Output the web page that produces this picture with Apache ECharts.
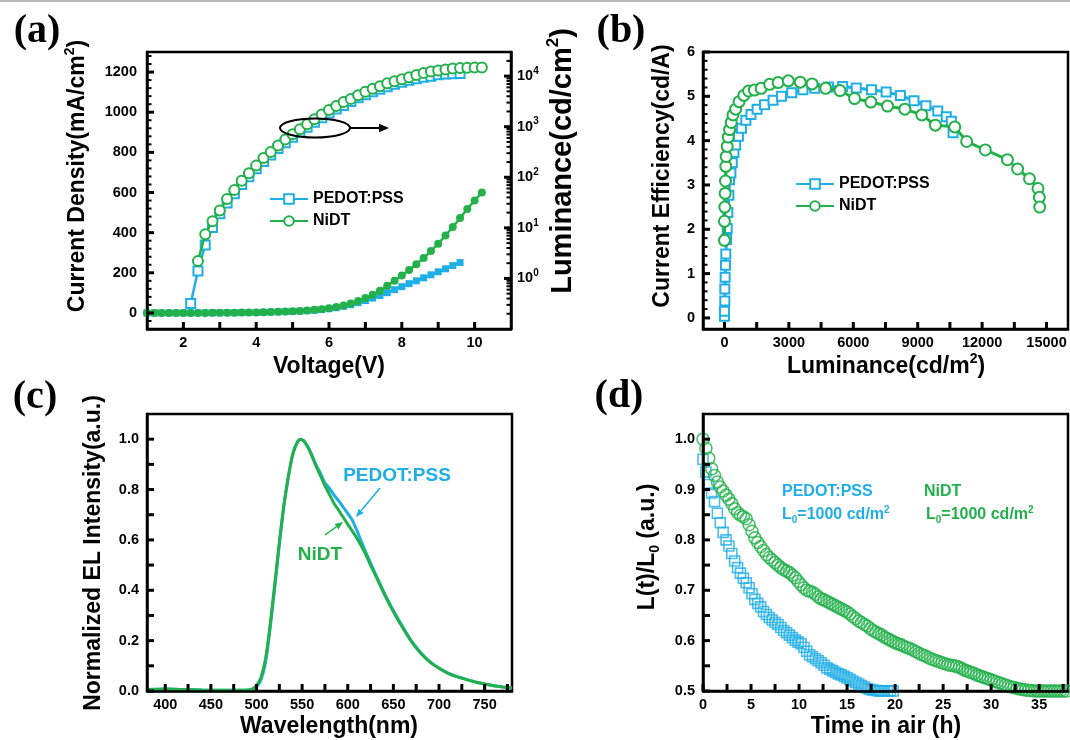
<!DOCTYPE html>
<html>
<head>
<meta charset="utf-8">
<title>OLED device characteristics: PEDOT:PSS vs NiDT</title>
<script src="https://cdn.jsdelivr.net/npm/echarts@6.0.0/dist/echarts.min.js"></script>
<style>
  html, body { margin: 0; padding: 0; background: #fff; }
  #chart { width: 1070px; height: 740px; }
</style>
</head>
<body>
<div id="chart"></div>
<script>
const BLUE = '#1FAEE6';
const GREEN = '#23B04B';
const FONT = 'Liberation Sans';
const SERIF = 'Liberation Serif';

// ---------- (a) current density / luminance vs voltage ----------
const voltage = [1.0,1.2,1.4,1.6,1.8,2.0,2.2,2.4,2.6,2.8,3.0,3.2,3.4,3.6,3.8,4.0,4.2,4.4,4.6,4.8,
                 5.0,5.2,5.4,5.6,5.8,6.0,6.2,6.4,6.6,6.8,7.0,7.2,7.4,7.6,7.8,8.0,8.2,8.4,8.6,8.8,
                 9.0,9.2,9.4,9.6,9.8,10.0,10.2];
// current density, mA/cm2
const jPedot = [0,0,0,0,0,0,0.1,0.2,0.3,0.4,0.6,0.9,1.2,1.6,2.0,2.6,3.3,4.1,5.1,6.3,
                7.7,9.3,11.3,13.8,17,21,26,33,41,51,62,74,87,101,116,131,146,160,175,190,
                205,220,236,251,null,null,null];
const jNidt = [0,0,0,0,0,0,0.1,0.2,0.3,0.5,0.7,1.0,1.3,1.7,2.2,2.8,3.5,4.4,5.5,6.8,
               8.3,10,12.5,15.5,19,23,29,37,47,59,74,91,111,135,160,187,214,243,274,308,
               345,386,428,473,518,560,600];
// luminance (log axis)
const lumPedot = [null,null,null,null,null,null,0.32,1.4,4.6,10.2,19,31,47,72,102,148,204,275,372,479,
                  617,776,977,1230,1510,1860,2240,2630,3160,3720,4270,4900,5500,6170,6920,7590,8320,8910,9550,10000,
                  10700,10960,11200,11300,null,null,null];
const lumNidt = [null,null,null,null,null,null,null,2.2,7.5,13.5,22,37,56,85,120,170,240,316,427,560,
                 710,890,1120,1410,1740,2140,2570,3090,3550,4170,4900,5620,6310,7240,7940,8710,9550,10500,11500,12300,
                 12900,13500,14100,14400,14700,14750,14800];
const voltLabels = [2,4,6,8,10];
const voltTicks = [2,3,4,5,6,7,8,9,10];
const jLabels = [0,200,400,600,800,1000,1200];
const lumDecades = [1,10,100,1000,10000];

// ---------- (b) current efficiency vs luminance ----------
const effLumPedot = [0,0,16,16,32,47,63,95,127,158,206,237,300,364,443,522,649,791,997,1234,
                     1519,1867,2262,2658,3132,3654,4208,4841,5505,6138,6850,7530,8195,8828,9381,9935,10331,10567,10647];
const effPedot = [0.04,0.15,0.38,0.65,0.92,1.19,1.44,1.77,2.02,2.38,2.77,3.12,3.27,3.5,3.73,3.9,4.1,4.28,4.46,4.59,
                  4.71,4.81,4.91,5.0,5.08,5.15,5.18,5.21,5.22,5.19,5.15,5.10,5.02,4.90,4.79,4.67,4.54,4.44,4.18];
const effLumNidt = [0,0,16,32,47,63,79,127,174,237,316,396,522,680,902,1123,1392,1709,2104,2500,
                    2974,3528,4082,4714,5379,6059,6818,7594,8400,9191,9824,10726,11280,12150,13178,13653,14206,14602,14665,14681];
const effNidt = [1.75,2.18,2.5,2.81,3.09,3.42,3.64,3.87,4.08,4.25,4.41,4.58,4.71,4.88,5.02,5.12,5.14,5.18,5.27,5.31,
                 5.35,5.32,5.28,5.18,5.13,4.95,4.87,4.78,4.71,4.58,4.35,4.31,3.98,3.79,3.57,3.36,3.14,2.92,2.72,2.5];
const lumLabels = [0,3000,6000,9000,12000,15000];
const lumTicks = [0,1500,3000,4500,6000,7500,9000,10500,12000,13500,15000];
const ceLabels = [0,1,2,3,4,5,6];
const ceMinor = [0.2,0.4,0.6,0.8,1.2,1.4,1.6,1.8,2.2,2.4,2.6,2.8,3.2,3.4,3.6,3.8,4.2,4.4,4.6,4.8,5.2,5.4,5.6,5.8];

// ---------- (c) normalized EL spectra ----------
const wavelength = [380,400,420,440,460,480,490,495,500,505,510,515,520,525,530,535,540,545,548,552,
                    556,560,565,570,575,580,585,590,595,600,605,610,615,620,625,630,640,650,660,670,
                    680,690,700,710,720,730,740,750,760,770,780];
const elPedot = [0.006,0.008,0.006,0.004,0.003,0.003,0.003,0.005,0.016,0.045,0.115,0.25,0.41,0.58,0.735,0.852,0.943,0.99,1.0,0.993,
                 0.972,0.943,0.9,0.865,0.826,0.805,0.778,0.755,0.73,0.705,0.678,0.638,0.592,0.55,0.508,0.468,0.39,0.32,0.256,0.198,
                 0.152,0.117,0.091,0.071,0.057,0.046,0.036,0.028,0.021,0.016,0.012];
const elNidt = [0.006,0.008,0.006,0.004,0.003,0.003,0.004,0.008,0.022,0.055,0.13,0.265,0.425,0.59,0.74,0.855,0.945,0.99,1.0,0.992,
                0.97,0.94,0.895,0.855,0.815,0.78,0.745,0.718,0.69,0.662,0.635,0.607,0.575,0.54,0.50,0.462,0.385,0.315,0.252,0.195,
                0.15,0.115,0.09,0.07,0.056,0.045,0.036,0.028,0.021,0.016,0.012];
const wlLabels = [400,450,500,550,600,650,700,750];
const wlTicks = [400,425,450,475,500,525,550,575,600,625,650,675,700,725,750,775];
const elLabels = [0,0.2,0.4,0.6,0.8,1.0];
const elTicks = [0,0.1,0.2,0.3,0.4,0.5,0.6,0.7,0.8,0.9,1.0];

// ---------- (d) luminance decay in air ----------
const timePedot = [0,0.3,0.6,0.9,1.2,1.5,1.8,2.1,2.4,2.7,3,3.3,3.6,3.9,4.2,4.5,4.8,5.1,5.4,5.7,
                   6,6.3,6.6,6.9,7.2,7.5,7.8,8.1,8.4,8.7,9,9.3,9.6,9.9,10.2,10.5,10.8,11.1,11.4,11.7,
                   12,12.3,12.6,12.9,13.2,13.5,13.8,14.1,14.4,14.7,15,15.3,15.6,15.9,16.2,16.5,16.8,17.1,17.4,17.7,
                   18,18.3,18.6,18.9,19.2,19.5,19.8];
const decayPedot = [0.960,0.935,0.910,0.893,0.876,0.853,0.834,0.815,0.800,0.788,
                    0.773,0.758,0.745,0.734,0.724,0.715,0.705,0.693,0.682,0.674,
                    0.667,0.658,0.652,0.646,0.641,0.636,0.632,0.626,0.620,0.616,
                    0.611,0.606,0.601,0.597,0.594,0.587,0.579,0.572,0.568,0.564,
                    0.560,0.556,0.551,0.546,0.543,0.540,0.537,0.534,0.532,0.529,
                    0.526,0.523,0.520,0.517,0.514,0.511,0.508,0.505,0.503,0.502,
                    0.501,0.500,0.500,0.500,0.500,0.500,0.500];
const timeNidt = [0,0.3,0.6,0.9,1.2,1.5,1.8,2.1,2.4,2.7,3,3.3,3.6,3.9,4.2,4.5,4.8,5.1,5.4,5.7,
                  6,6.3,6.6,6.9,7.2,7.5,7.8,8.1,8.4,8.7,9,9.3,9.6,9.9,10.2,10.5,10.8,11.1,11.4,11.7,
                  12,12.3,12.6,12.9,13.2,13.5,13.8,14.1,14.4,14.7,15,15.3,15.6,15.9,16.2,16.5,16.8,17.1,17.4,17.7,
                  18,18.3,18.6,18.9,19.2,19.5,19.8,20.1,20.4,20.7,21,21.3,21.6,21.9,22.2,22.5,22.8,23.1,23.4,23.7,
                  24,24.3,24.6,24.9,25.2,25.5,25.8,26.1,26.4,26.7,27,27.3,27.6,27.9,28.2,28.5,28.8,29.1,29.4,29.7,
                  30,30.3,30.6,30.9,31.2,31.5,31.8,32.1,32.4,32.7,33,33.3,33.6,33.9,34.2,34.5,34.8,35.1,35.4,35.7,
                  36,36.3,36.6,36.9,37.2,37.5,37.8];
const decayNidt = [1.000,0.982,0.962,0.941,0.928,0.915,0.905,0.897,0.889,0.881,
                   0.872,0.862,0.854,0.849,0.846,0.842,0.830,0.817,0.804,0.795,
                   0.787,0.779,0.771,0.765,0.760,0.755,0.750,0.745,0.741,0.738,
                   0.735,0.730,0.725,0.718,0.711,0.705,0.700,0.698,0.696,0.692,
                   0.687,0.683,0.681,0.678,0.675,0.672,0.669,0.666,0.663,0.660,
                   0.657,0.653,0.648,0.644,0.639,0.636,0.632,0.629,0.624,0.620,
                   0.617,0.614,0.611,0.607,0.604,0.601,0.598,0.595,0.593,0.591,
                   0.588,0.586,0.584,0.581,0.578,0.575,0.572,0.570,0.567,0.564,
                   0.562,0.560,0.558,0.556,0.554,0.552,0.551,0.550,0.549,0.547,
                   0.544,0.541,0.539,0.537,0.535,0.532,0.530,0.528,0.526,0.524,
                   0.522,0.520,0.518,0.516,0.514,0.512,0.510,0.508,0.507,0.505,
                   0.504,0.503,0.502,0.501,0.501,0.500,0.500,0.500,0.500,0.500,
                   0.500,0.500,0.500,0.500,0.500,0.500,0.500];
const timeLabels = [0,5,10,15,20,25,30,35];
const timeTicks = [0,2.5,5,7.5,10,12.5,15,17.5,20,22.5,25,27.5,30,32.5,35,37.5];
const decayLabels = [0.5,0.6,0.7,0.8,0.9,1.0];
const decayTicks = [0.5,0.55,0.6,0.65,0.7,0.75,0.8,0.85,0.9,0.95,1.0];

// ---------- helpers ----------
const pairs = (xs, ys) => xs.map((x, i) => [x, ys[i]]);

// minor tick positions for the current-density axis and the log luminance axis
const jMinor = [];
for (let v = -40; v <= 1280; v += 40) if (v % 200 !== 0) jMinor.push(v);
const lumMinor = [];
for (let e = -1; e <= 4; e++) for (let m = 2; m <= 9; m++) {
  const v = m * Math.pow(10, e);
  if (v < 30000) lumMinor.push(v);
}

function axis(o) {
  const hasLabel = !!(o.labels || o.fmt);
  return {
    type: o.type || 'value', gridIndex: o.grid, position: o.position,
    min: o.min, max: o.max, logBase: o.logBase,
    axisLine: { show: true, onZero: false, lineStyle: { color: '#000', width: 2.5 } },
    axisTick: { show: false },
    axisLabel: hasLabel ? {
      show: true, customValues: o.labels, margin: o.margin == null ? 8 : o.margin,
      formatter: o.fmt, color: '#000', fontFamily: FONT, fontWeight: 'bold', fontSize: 14.5,
      lineHeight: o.lineHeight, rich: o.rich
    } : { show: false },
    splitLine: { show: false }, minorTick: { show: false }, minorSplitLine: { show: false },
    z: 5
  };
}

const supRich = (size, color) => ({
  sup: { fontSize: Math.round(size * 0.6), fontWeight: 'bold', fontFamily: FONT, fill: color, color: color, verticalAlign: 'top', lineHeight: Math.round(size * 0.6) },
  sub: { fontSize: Math.round(size * 0.6), fontWeight: 'bold', fontFamily: FONT, fill: color, color: color, verticalAlign: 'bottom', lineHeight: Math.round(size * 0.6) }
});

function text(x, y, str, size, color, opt) {
  opt = opt || {};
  return {
    type: 'text', x: x, y: y, rotation: opt.rotate ? Math.PI / 2 : 0, z: 100,
    style: {
      text: str, fontSize: size, fontWeight: 'bold', fontFamily: opt.family || FONT, fill: color,
      align: opt.align || 'center', verticalAlign: 'middle', lineHeight: Math.round(size * 1.25),
      rich: supRich(size, color)
    }
  };
}

function arrow(x1, y1, x2, y2, color, w, head) {
  const a = Math.atan2(y2 - y1, x2 - x1);
  const hx = x2 - head * Math.cos(a), hy = y2 - head * Math.sin(a);
  const s = head * 0.42;
  return [
    { type: 'line', z: 100, shape: { x1: x1, y1: y1, x2: hx, y2: hy }, style: { stroke: color, lineWidth: w } },
    { type: 'polygon', z: 100, shape: { points: [[x2, y2], [hx + s * Math.sin(a), hy - s * Math.cos(a)], [hx - s * Math.sin(a), hy + s * Math.cos(a)]] },
      style: { fill: color } }
  ];
}

const logFmt = v => {
  const e = Math.log10(v), r = Math.round(e);
  if (Math.abs(e - r) > 1e-6 || r < 0) return '';
  return '10{sup|' + r + '}';
};

const gridBase = { show: true, borderColor: '#000', borderWidth: 2.5, containLabel: false, outerBoundsMode: 'none' };

const legendBase = {
  data: ['PEDOT:PSS', 'NiDT'], orient: 'vertical', itemWidth: 38, itemHeight: 12, itemGap: 6,
  selectedMode: false,
  textStyle: { fontSize: 16, fontWeight: 'bold', fontFamily: FONT, color: '#000' }
};

const baseGraphics = [].concat(
  [{ type: 'line', z: 100, shape: { x1: 0, y1: 1, x2: 1070, y2: 1 }, style: { stroke: '#b8b8b8', lineWidth: 2 } }],
  // panel letters
  [text(37, 32, '(a)', 40, '#000', { family: SERIF }),
   text(621, 32, '(b)', 40, '#000', { family: SERIF }),
   text(35, 398, '(c)', 40, '#000', { family: SERIF }),
   text(619, 397, '(d)', 40, '#000', { family: SERIF })],
  // axis titles
  [text(329, 367, 'Voltage(V)', 23, '#000'),
   text(78, 176, 'Current Density(mA/cm{sup|2})', 23, '#000', { rotate: true }),
   text(563, 161, 'Luminance(cd/cm{sup|2})', 29, '#000', { rotate: true }),
   text(886, 367, 'Luminance(cd/m{sup|2})', 23, '#000'),
   text(663, 176, 'Current Efficiency(cd/A)', 23, '#000', { rotate: true }),
   text(329, 727, 'Wavelength(nm)', 23, '#000'),
   text(94, 553, 'Normalized EL Intensity(a.u.)', 23, '#000', { rotate: true }),
   text(886, 727, 'Time in air (h)', 23, '#000'),
   text(648, 547, 'L(t)/L{sub|0} (a.u.)', 23, '#000', { rotate: true })],
  // (a) ellipse marking the luminance curves, pointing to the right axis
  [{ type: 'ellipse', z: 100, shape: { cx: 315, cy: 128, rx: 35, ry: 9.5 }, style: { fill: 'none', stroke: '#000', lineWidth: 2 } }],
  arrow(350, 128, 389, 128, '#000', 2, 10),
  // (c) curve labels
  [text(397, 476, 'PEDOT:PSS', 19, BLUE), text(320, 555, 'NiDT', 19, GREEN)],
  arrow(380, 488, 356, 517, BLUE, 1.5, 8),
  arrow(325, 535, 343, 522, GREEN, 1.5, 8),
  // (d) device labels
  [text(782, 492, 'PEDOT:PSS', 16, BLUE, { align: 'left' }),
   text(782, 515, 'L{sub|0}=1000 cd/m{sup|2}', 16, BLUE, { align: 'left' }),
   text(924, 492, 'NiDT', 16, GREEN, { align: 'left' }),
   text(926, 515, 'L{sub|0}=1000 cd/m{sup|2}', 16, GREEN, { align: 'left' })]
);

const option = {
  animation: false,
  backgroundColor: '#fff',
  textStyle: { fontFamily: FONT },
  grid: [
    Object.assign({ left: 147, top: 52, width: 364, height: 277 }, gridBase),
    Object.assign({ left: 703, top: 52, width: 365, height: 277 }, gridBase),
    Object.assign({ left: 147, top: 414, width: 365, height: 277 }, gridBase),
    Object.assign({ left: 703, top: 414, width: 365, height: 277 }, gridBase)
  ],
  legend: [
    Object.assign({ left: 264, top: 186 }, legendBase),
    Object.assign({ left: 790, top: 171 }, legendBase)
  ],
  xAxis: [
    axis({ grid: 0, min: 1, max: 11, labels: voltLabels, margin: 6, fmt: v => String(v) }),
    axis({ grid: 1, min: -1000, max: 16000, labels: lumLabels, margin: 6, fmt: v => String(v) }),
    axis({ grid: 2, min: 380, max: 780, labels: wlLabels, margin: 6, fmt: v => String(v) }),
    axis({ grid: 3, min: 0, max: 38, labels: timeLabels, margin: 6, fmt: v => String(v) })
  ],
  yAxis: [
    axis({ grid: 0, min: -80, max: 1300, labels: jLabels, margin: 10, fmt: v => String(v) }),
    axis({ grid: 0, type: 'log', logBase: 10, position: 'right', min: 0.1, max: 30000,
           margin: 6, fmt: logFmt, lineHeight: 20,
           rich: { sup: { fontSize: 10, fontWeight: 'bold', fontFamily: FONT, color: '#000', verticalAlign: 'top', lineHeight: 10 } } }),
    axis({ grid: 1, min: -0.25, max: 6, labels: ceLabels, fmt: v => String(v) }),
    axis({ grid: 2, min: 0, max: 1.1, labels: elLabels, fmt: v => v.toFixed(1) }),
    axis({ grid: 3, min: 0.5, max: 1.05, labels: decayLabels, fmt: v => v.toFixed(1) })
  ],
  series: [
    // 0,1: (a) luminance, open markers on the right log axis
    { type: 'line', name: 'PEDOT:PSS', xAxisIndex: 0, yAxisIndex: 1, data: pairs(voltage, lumPedot),
      symbol: 'emptyRect', symbolSize: 9, lineStyle: { color: BLUE, width: 2.5 }, itemStyle: { color: BLUE, borderWidth: 1.5 }, z: 2 },
    { type: 'line', name: 'NiDT', xAxisIndex: 0, yAxisIndex: 1, data: pairs(voltage, lumNidt),
      symbol: 'emptyCircle', symbolSize: 10, lineStyle: { color: GREEN, width: 2.5 }, itemStyle: { color: GREEN, borderWidth: 1.5 }, z: 3 },
    // 2,3: (a) current density, filled markers on the left axis
    { type: 'line', name: 'PEDOT:PSS', xAxisIndex: 0, yAxisIndex: 0, data: pairs(voltage, jPedot),
      symbol: 'rect', symbolSize: 7, lineStyle: { color: BLUE, width: 2.5 }, itemStyle: { color: BLUE }, z: 2 },
    { type: 'line', name: 'NiDT', xAxisIndex: 0, yAxisIndex: 0, data: pairs(voltage, jNidt),
      symbol: 'circle', symbolSize: 8, lineStyle: { color: GREEN, width: 2.5 }, itemStyle: { color: GREEN }, z: 3 },
    // 4,5: (b) current efficiency
    { type: 'line', name: 'PEDOT:PSS', xAxisIndex: 1, yAxisIndex: 2, data: pairs(effLumPedot, effPedot),
      symbol: 'emptyRect', symbolSize: 9, lineStyle: { color: BLUE, width: 3 }, itemStyle: { color: BLUE, borderWidth: 1.5 }, z: 2 },
    { type: 'line', name: 'NiDT', xAxisIndex: 1, yAxisIndex: 2, data: pairs(effLumNidt, effNidt),
      symbol: 'emptyCircle', symbolSize: 11, lineStyle: { color: GREEN, width: 3 }, itemStyle: { color: GREEN, borderWidth: 1.5 }, z: 3 },
    // 6,7: (c) EL spectra
    { type: 'line', name: 'PEDOT:PSS', xAxisIndex: 2, yAxisIndex: 3, data: pairs(wavelength, elPedot),
      showSymbol: false, smooth: 0.15, lineStyle: { color: BLUE, width: 3 }, itemStyle: { color: BLUE }, z: 2 },
    { type: 'line', name: 'NiDT', xAxisIndex: 2, yAxisIndex: 3, data: pairs(wavelength, elNidt),
      showSymbol: false, smooth: 0.15, lineStyle: { color: GREEN, width: 3 }, itemStyle: { color: GREEN }, z: 3 },
    // 8,9: (d) lifetime
    { type: 'scatter', name: 'PEDOT:PSS', xAxisIndex: 3, yAxisIndex: 4, data: pairs(timePedot, decayPedot),
      symbol: 'rect', symbolSize: 10, itemStyle: { color: 'rgba(0,0,0,0)', borderColor: BLUE, borderWidth: 1.6 }, z: 2 },
    { type: 'scatter', name: 'NiDT', xAxisIndex: 3, yAxisIndex: 4, data: pairs(timeNidt, decayNidt),
      symbol: 'circle', symbolSize: 12, itemStyle: { color: 'rgba(0,0,0,0)', borderColor: GREEN, borderWidth: 1.6 }, z: 3 }
  ],
  graphic: baseGraphics
};

const chart = echarts.init(document.getElementById('chart'), null, { renderer: 'canvas' });
chart.setOption(option);

// inward tick marks, positioned through the coordinate system of a series on that axis pair
function tickLines(seriesIndex, pts, dx, dy, w) {
  const out = [];
  pts.forEach(pt => {
    const p = chart.convertToPixel({ seriesIndex: seriesIndex }, pt);
    if (!p || !isFinite(p[0]) || !isFinite(p[1])) return;
    out.push({ type: 'line', z: 100,
               shape: { x1: p[0], y1: p[1], x2: p[0] + dx, y2: p[1] + dy },
               style: { stroke: '#000', lineWidth: w || 3 } });
  });
  return out;
}
const atY = (vals, y) => vals.map(v => [v, y]);
const atX = (vals, x) => vals.map(v => [x, v]);

const tickGraphics = [].concat(
  tickLines(2, atY(voltTicks, -80), 0, -7),
  tickLines(2, atX(jLabels, 1), 7, 0),
  tickLines(2, atX(jMinor, 1), 4.5, 0, 2),
  tickLines(0, atX(lumDecades, 11), -7, 0),
  tickLines(0, atX(lumMinor, 11), -4.5, 0, 2),
  tickLines(4, atY(lumTicks, -0.25), 0, -7),
  tickLines(4, atX(ceLabels, -1000), 7, 0),
  tickLines(4, atX(ceMinor, -1000), 4.5, 0, 2),
  tickLines(6, atY(wlTicks, 0), 0, -7),
  tickLines(6, atX(elTicks, 380), 7, 0),
  tickLines(8, atY(timeTicks, 0.5), 0, -7),
  tickLines(8, atX(decayTicks, 0), 7, 0)
);

chart.setOption({ graphic: baseGraphics.concat(tickGraphics) });
</script>
</body>
</html>
